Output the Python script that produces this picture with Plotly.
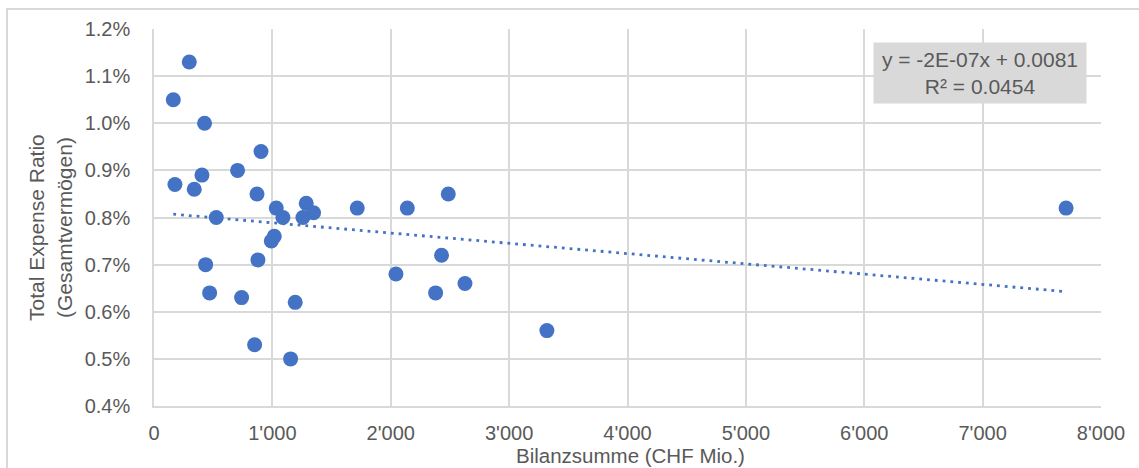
import numpy as np
import plotly.graph_objects as go

# Data (x: Bilanzsumme in CHF Mio., y: Total Expense Ratio as fraction)
bilanzsumme = [163, 298, 427, 904, 706, 405, 177, 340, 870, 526,
               1033, 1089, 1286, 1348, 1258, 1717, 1016, 991, 878, 436,
               470, 740, 1193, 850, 1154, 2044, 2140, 2486, 2429, 2379,
               2627, 3319, 7705]
ter = [0.0105, 0.0113, 0.0100, 0.0094, 0.0090, 0.0089, 0.0087, 0.0086, 0.0085, 0.0080,
       0.0082, 0.0080, 0.0083, 0.0081, 0.0080, 0.0082, 0.0076, 0.0075, 0.0071, 0.0070,
       0.0064, 0.0063, 0.0062, 0.0053, 0.0050, 0.0068, 0.0082, 0.0085, 0.0072, 0.0064,
       0.0066, 0.0056, 0.0082]

x_tickvals = [0, 1000, 2000, 3000, 4000, 5000, 6000, 7000, 8000]
x_ticktext = ["0", "1'000", "2'000", "3'000", "4'000", "5'000", "6'000", "7'000", "8'000"]
y_tickvals = [0.004, 0.005, 0.006, 0.007, 0.008, 0.009, 0.010, 0.011, 0.012]
y_ticktext = ["0.4%", "0.5%", "0.6%", "0.7%", "0.8%", "0.9%", "1.0%", "1.1%", "1.2%"]

equation_text = "y = -2E-07x + 0.0081<br>R² = 0.0454"
x_title = "Bilanzsumme (CHF Mio.)"
y_title_lines = ["Total Expense Ratio", "(Gesamtvermögen)"]

# Linear trend fit
xa = np.array(bilanzsumme, dtype=float)
ya = np.array(ter, dtype=float)
slope, intercept = np.polyfit(xa, ya, 1)
trend_x = [xa.min(), xa.max()]
trend_y = [intercept + slope * v for v in trend_x]

BLUE = "#4472C4"
GRID = "#d9d9d9"
TXT = "#595959"
FONT = "Liberation Sans, Arial, sans-serif"

fig = go.Figure()
fig.add_trace(go.Scatter(
    x=trend_x, y=trend_y, mode="lines",
    line=dict(color=BLUE, width=2.8, dash="2.8px,5px"),
    hoverinfo="skip", showlegend=False))
fig.add_trace(go.Scatter(
    x=bilanzsumme, y=ter, mode="markers",
    marker=dict(color=BLUE, size=15, line=dict(width=0)),
    showlegend=False))

W, H = 1139, 468
ml, mr, mt, mb = 154, 38, 29, 62
pw, ph = W - ml - mr, H - mt - mb

def px_x(p):
    return (p - ml) / pw

def px_y(p):
    return (H - mb - p) / ph

annotations = [
    dict(xref="paper", yref="paper",
         x=px_x(980), y=px_y(73), xanchor="center", yanchor="middle",
         text=equation_text, showarrow=False, align="center",
         font=dict(family=FONT, size=21, color=TXT),
         bgcolor=GRID, borderpad=5, width=202),
    dict(xref="paper", yref="paper",
         x=px_x(630), y=px_y(455), xanchor="center", yanchor="middle",
         text=x_title, showarrow=False,
         font=dict(family=FONT, size=20.5, color=TXT)),
]
for xp, line in zip([36, 64], y_title_lines):
    annotations.append(dict(
        xref="paper", yref="paper",
        x=px_x(xp), y=px_y(228), xanchor="center", yanchor="middle",
        text=line, showarrow=False, textangle=-90,
        font=dict(family=FONT, size=21, color=TXT)))

fig.update_layout(
    width=W, height=H,
    margin=dict(l=ml, r=mr, t=mt, b=mb),
    paper_bgcolor="white", plot_bgcolor="white",
    font=dict(family=FONT, size=20, color=TXT),
    xaxis=dict(
        range=[0, 8000], tickvals=x_tickvals, ticktext=x_ticktext,
        showgrid=True, gridcolor=GRID, gridwidth=1.5,
        zeroline=False, showline=True, linecolor=GRID, linewidth=1.5,
        ticks="", ticklabelstandoff=8, automargin=False,
        fixedrange=True),
    yaxis=dict(
        range=[0.004, 0.012], tickvals=y_tickvals, ticktext=y_ticktext,
        showgrid=True, gridcolor=GRID, gridwidth=1.5,
        zeroline=False, showline=True, linecolor=GRID, linewidth=1.5,
        ticks="", ticklabelstandoff=18, automargin=False,
        fixedrange=True),
    shapes=[dict(type="rect", xref="paper", yref="paper",
                 x0=px_x(7), x1=px_x(1150), y0=px_y(480), y1=px_y(9),
                 line=dict(color=GRID, width=2), fillcolor="rgba(0,0,0,0)", layer="below")],
    annotations=annotations,
)

fig.write_html("out.html")
